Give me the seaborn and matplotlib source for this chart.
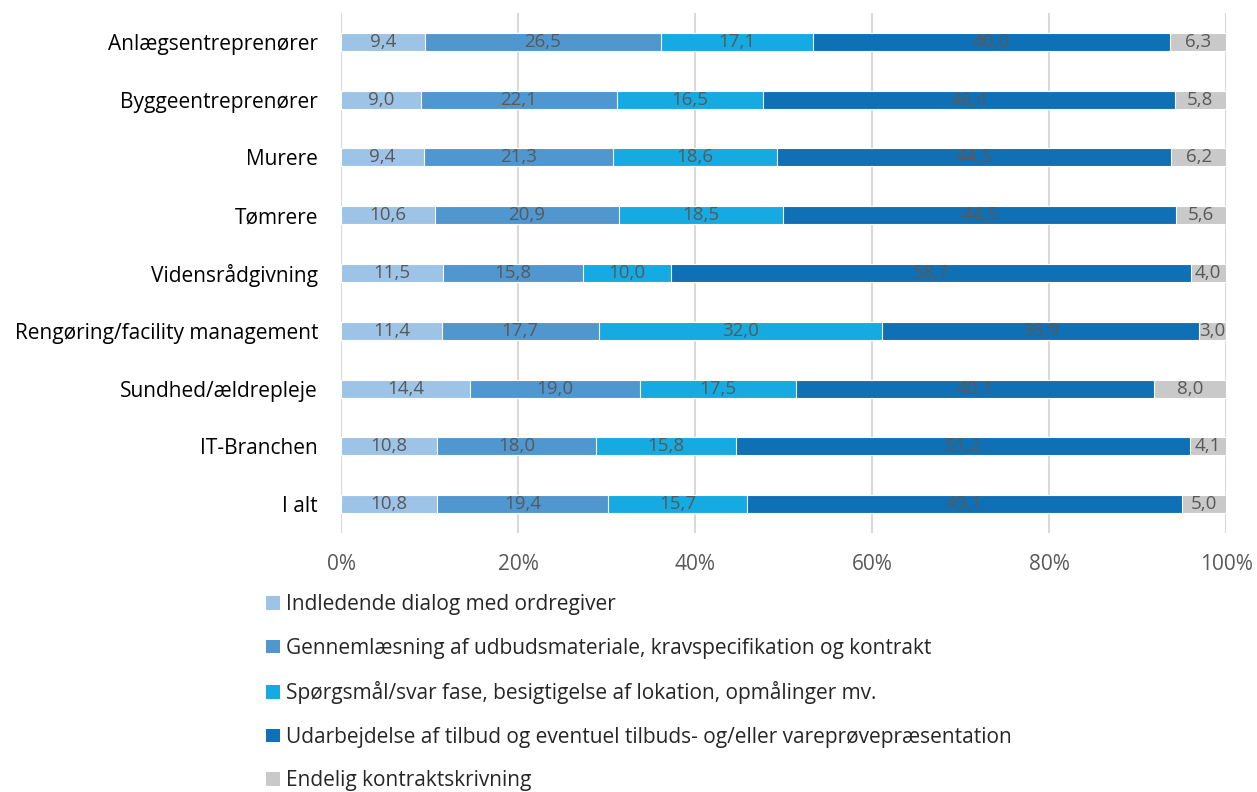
import numpy as np
import pandas as pd
import matplotlib
matplotlib.use("Agg")
import matplotlib.pyplot as plt
import seaborn as sns
from matplotlib.patches import Patch

categories = ["Anlægsentreprenører", "Byggeentreprenører", "Murere", "Tømrere",
              "Vidensrådgivning", "Rengøring/facility management", "Sundhed/ældrepleje",
              "IT-Branchen", "I alt"]
series_names = ["Indledende dialog med ordregiver",
                "Gennemlæsning af udbudsmateriale, kravspecifikation og kontrakt",
                "Spørgsmål/svar fase, besigtigelse af lokation, opmålinger mv.",
                "Udarbejdelse af tilbud og eventuel tilbuds- og/eller vareprøvepræsentation",
                "Endelig kontraktskrivning"]
s1 = [9.4, 9.0, 9.4, 10.6, 11.5, 11.4, 14.4, 10.8, 10.8]
s2 = [26.5, 22.1, 21.3, 20.9, 15.8, 17.7, 19.0, 18.0, 19.4]
s3 = [17.1, 16.5, 18.6, 18.5, 10.0, 32.0, 17.5, 15.8, 15.7]
s4 = [40.0, 46.4, 44.5, 44.5, 58.7, 35.9, 40.1, 51.2, 49.1]
s5 = [6.3, 5.8, 6.2, 5.6, 4.0, 3.0, 8.0, 4.1, 5.0]
tick_labels = ["0%", "20%", "40%", "60%", "80%", "100%"]
colors = ["#9DC3E6", "#5097D0", "#15AAE2", "#0F70B6", "#C9C9C9"]

vals = np.array([s1, s2, s3, s4, s5])
shares = vals / vals.sum(axis=0) * 100
cum = np.cumsum(shares, axis=0)

sns.set_theme(style="white")
plt.rcParams['font.family'] = ['Open Sans', 'DejaVu Sans']

fig = plt.figure(figsize=(12.57, 7.92), dpi=100)
ax = fig.add_axes([341/1257, 1-533/792, (1226-341)/1257, (533-13)/792])

for i in range(4, -1, -1):
    df = pd.DataFrame({"cat": categories, "val": cum[i]})
    sns.barplot(data=df, x="val", y="cat", orient="h", color=colors[i],
                saturation=1, width=0.31, edgecolor="white", linewidth=0.8, ax=ax, zorder=3)

for i in range(5):
    for j in range(len(categories)):
        left = cum[i][j] - shares[i][j]
        ax.text(left + shares[i][j] / 2, j, f"{vals[i][j]:.1f}".replace(".", ","),
                ha="center", va="center", color="#595959", fontsize=13.5, zorder=5)

ax.set_xlim(0, 100)
ax.set_ylim(8.5, -0.5)
ax.set_xticks([0, 20, 40, 60, 80, 100])
ax.set_xticklabels(tick_labels, color="#595959", fontsize=15)
ax.tick_params(axis="x", pad=15, length=0)
ax.tick_params(axis="y", labelsize=15, length=0, pad=16.5, labelcolor="black")
ax.set_xlabel("")
ax.set_ylabel("")
ax.grid(axis="x", color="#D9D9D9", linewidth=1.5, zorder=0)
ax.set_axisbelow(True)
for sp in ax.spines.values():
    sp.set_visible(False)

handles = [Patch(facecolor=c, edgecolor="none") for c in colors]
fig.legend(handles, series_names, loc="upper left", bbox_to_anchor=(258/1257, 1-586/792),
           frameon=False, fontsize=15, handlelength=0.65, handleheight=0.65,
           handletextpad=0.3, labelspacing=1.08, borderaxespad=0)

fig.savefig("out.png", dpi=100)
